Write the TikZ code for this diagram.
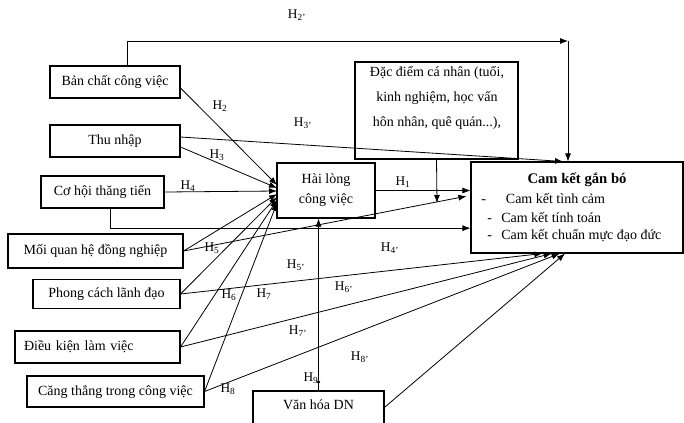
\documentclass[tikz,border=0pt]{standalone}
\usepackage{fontspec}
\setmainfont{Liberation Serif}
\usetikzlibrary{arrows.meta}
\newcommand\hyp[1]{H\textsubscript{#1}}

\begin{document}
\begin{tikzpicture}[x=0.75pt,y=-0.75pt,
  wh/.style 2 args={minimum width=#1*0.75pt, minimum height=#2*0.75pt},
  box/.style={draw, line width=0.8pt, inner sep=0pt, align=center,
              font=\fontsize{10.5}{15}\selectfont},
  link/.style={line width=0.6pt},
  arr/.style={link, -{Latex[length=6pt,width=4.5pt]}},
  lab/.style={font=\fontsize{10}{12}\selectfont, inner sep=0pt},
  txt/.style={font=\fontsize{10.5}{12}\selectfont, inner sep=0pt}]
\clip (0,0) rectangle (684,422);

% factor boxes on the left
\node[box, wh={130}{32}] (bc) at (115,82)    {Bản chất công việc};
\node[box, wh={130}{32}] (tn) at (115,141)   {Thu nhập};
\node[box, wh={123}{32}] (ch) at (102.5,192) {Cơ hội thăng tiến};
\node[box, wh={175}{34}] (mq) at (95.5,251)  {Mối quan hệ đồng nghiệp};
\node[box, wh={147}{29}] (pc) at (106.5,294) {Phong cách lãnh đạo};
\node[box, wh={165}{32}, align=left, text width=147*0.75pt, inner xsep=6.75pt] (dk) at (97.5,347) {Điều kiện làm việc};
\node[box, wh={177}{31}] (ct) at (115.5,391.5) {Căng thẳng trong công việc};

% mediator, moderators and outcome
\node[box, wh={98}{55}] (hl) at (326,190.5) {Hài lòng\\công việc};
\node[box, wh={163}{97}] (dd) at (436.5,110.5) {};
\node[txt, align=center, font=\fontsize{10.5}{19}\selectfont] (ddt) at (437,98)
  {Đặc điểm cá nhân (tuổi,\\kinh nghiệm, học vấn\\hôn nhân, quê quán...),};
\node[box, wh={212}{91}] (ck) at (577,207.5) {};
\node[txt, font=\fontsize{11}{12}\bfseries] (ckt) at (577,180) {Cam kết gắn bó};
\node[txt, anchor=west] (ck1) at (481,198) {-\hspace{15pt}Cam kết tình cảm};
\node[txt, anchor=west] (ck2) at (487,217) {-\hspace{7pt}Cam kết tính toán};
\node[txt, anchor=west] (ck3) at (487,236) {-\hspace{7pt}Cam kết chuẩn mực đạo đức};
\node[box, wh={131}{38}] (vh) at (318.5,410) {};
\node[txt] (vht) at (318.5,405) {Văn hóa DN};

% arrow ends on the left side of "Hài lòng công việc"
\coordinate (in2) at (277,185);
\coordinate (in3) at (277,188);
\coordinate (in4) at (277,191);
\coordinate (in5) at (277,194);
\coordinate (in6) at (277,197);
\coordinate (in7) at (277,200);
\coordinate (in8) at (277,203);
\coordinate (top) at (568,41);
\coordinate (mod) at (437,203);

% paths into job satisfaction
\draw[arr] ([yshift=-4.5pt]bc.east) -- (in2);
\draw[arr] ([yshift=-4.5pt]tn.east) -- (in3);
\draw[arr] (ch.east) -- (in4);
\draw[arr] (mq.east) -- (in5);
\draw[arr] (pc.east) -- (in6);
\draw[arr] (dk.east) -- (in7);
\draw[arr] (ct.east) -- (in8);

% direct paths into commitment
\draw[arr] ([xshift=9pt]bc.north) |- (top);
\draw[arr] (top) -- (top |- ck.north);
\draw[arr] ([yshift=3pt]tn.east) -- ([xshift=-10.5pt]ck.north);
\draw[arr] (hl.east) -- (hl.east -| ck.west);
\draw[arr] ([xshift=5.6pt]ch.south) |- ([yshift=-15.5pt]ck.west);
\draw[arr] (mq.east) -- ([xshift=-3pt,yshift=8.5pt]ck.west);
\draw[arr] (pc.east) -- ([xshift=-26pt]ck.south);
\draw[arr] (dk.east) -- ([xshift=-19pt]ck.south);
\draw[arr] (ct.east) -- ([xshift=-13pt]ck.south);
\draw[arr] ([yshift=2pt]vh.east) -- ([xshift=-9pt]ck.south);

% moderators
\draw[arr] (dd.south) -- (mod);
\draw[link, {Circle[length=2.5pt]}-{Latex[length=6pt,width=4.5pt]}]
  ([yshift=5pt]vh.north) -- (vh.north |- hl.south);
\draw[link] ([yshift=5pt]vh.north) -- (vh.north);

% hypothesis labels
\node[lab] (l2p) at (297,15)  {\hyp{2'}};
\node[lab] (l2)  at (220,106) {\hyp{2}};
\node[lab] (l3p) at (303,123) {\hyp{3'}};
\node[lab] (l3)  at (217,155) {\hyp{3}};
\node[lab] (l4)  at (188,186) {\hyp{4}};
\node[lab] (l1)  at (403,182) {\hyp{1}};
\node[lab] (l5)  at (212,248) {\hyp{5}};
\node[lab] (l4p) at (390,248) {\hyp{4'}};
\node[lab] (l5p) at (296,265) {\hyp{5'}};
\node[lab] (l6)  at (229,295) {\hyp{6}};
\node[lab] (l7)  at (264,294) {\hyp{7}};
\node[lab] (l6p) at (344,287) {\hyp{6'}};
\node[lab] (l7p) at (298,331) {\hyp{7'}};
\node[lab] (l8p) at (360,357) {\hyp{8'}};
\node[lab] (l9)  at (311,378) {\hyp{9}};
\node[lab] (l8)  at (228,389) {\hyp{8}};
\end{tikzpicture}
\end{document}
